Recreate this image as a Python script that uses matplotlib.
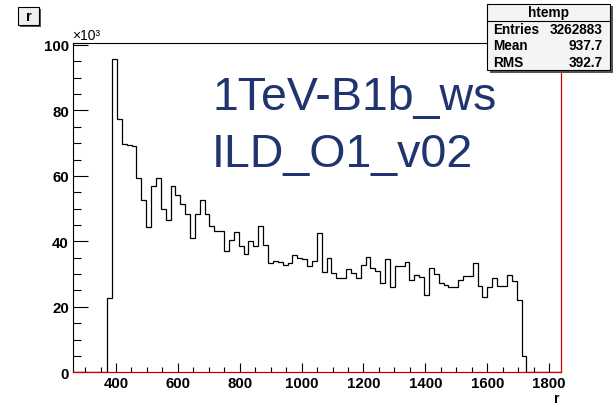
import numpy as np
import matplotlib
matplotlib.use("Agg")
import matplotlib.pyplot as plt
from matplotlib.patches import Rectangle
from matplotlib.ticker import MultipleLocator

plt.rcParams['font.family'] = ['Liberation Sans', 'DejaVu Sans']

# ---- data (counts in units of 10^3), 100 bins ----
x_min = 261.0
x_max = 1837.0
n_bins = 100
counts = [
    0, 0, 0, 0, 0, 0, 0, 22.6, 95.6, 77.4,
    69.8, 69.3, 69.0, 59.3, 52.5, 44.3, 56.9, 59.5, 49.9, 46.6,
    56.9, 54.2, 51.5, 48.4, 41.0, 48.3, 52.6, 48.5, 44.7, 43.3,
    43.3, 37.2, 40.5, 43.0, 38.7, 36.2, 40.1, 38.5, 44.8, 39.0,
    33.4, 34.1, 33.8, 32.8, 33.4, 35.7, 35.0, 34.5, 32.6, 33.9,
    42.5, 30.5, 34.9, 30.4, 28.7, 28.9, 31.5, 30.4, 28.9, 32.9,
    35.1, 31.9, 30.9, 27.3, 34.6, 26.2, 32.5, 32.6, 33.7, 28.2,
    29.8, 29.2, 23.6, 32.0, 30.1, 27.3, 26.7, 26.0, 26.2, 28.2,
    29.5, 29.4, 33.3, 26.3, 22.9, 26.0, 28.7, 26.5, 26.5, 29.8,
    28.0, 22.0, 5.0, 0, 0, 0, 0, 0, 0, 0,
]
y_max = 100.5
x_ticks = [400, 600, 800, 1000, 1200, 1400, 1600, 1800]
y_ticks = [0, 20, 40, 60, 80, 100]
hist_name = "htemp"
stats_labels = ["Entries", "Mean", "RMS"]
stats_values = ["3262883", "937.7", "392.7"]
big_text = ["1TeV-B1b_ws", "ILD_O1_v02"]
axis_name = "r"

W, H = 615, 406
fig = plt.figure(figsize=(W / 100, H / 100), dpi=100)
fig.patch.set_facecolor('white')

def fx(x):
    return x / W

def fy(y):
    return 1 - y / H

L, R, T, B = 73, 560.5, 44.3, 373.3
ax = fig.add_axes([fx(L), fy(B), fx(R) - fx(L), fy(T) - fy(B)])
edges = np.linspace(x_min, x_max, n_bins + 1)
ax.stairs(counts, edges, color='black', linewidth=0.9)
ax.set_xlim(x_min, x_max)
ax.set_ylim(0, y_max)

for s in ['top', 'left']:
    ax.spines[s].set_color('black')
    ax.spines[s].set_linewidth(0.8)
for s in ['bottom', 'right']:
    ax.spines[s].set_color('#d00000')
    ax.spines[s].set_linewidth(0.9)

ax.set_xticks(x_ticks)
ax.set_yticks(y_ticks)
ax.xaxis.set_minor_locator(MultipleLocator(50))
ax.yaxis.set_minor_locator(MultipleLocator(5))
ax.tick_params(axis='x', which='major', direction='in', length=6.5, width=0.8,
               pad=3, labelsize=10.8, top=False)
ax.tick_params(axis='x', which='minor', direction='in', length=3.6, width=0.8, top=False)
ax.tick_params(axis='y', which='major', direction='in', length=10.8, width=0.8,
               pad=3, labelsize=10.8, right=False)
ax.tick_params(axis='y', which='minor', direction='in', length=5.8, width=0.8, right=False)
for lab in ax.get_xticklabels() + ax.get_yticklabels():
    lab.set_fontweight('bold')

# x10^3 multiplier
fig.text(fx(72.5), fy(43.5), "\u00d710\u00b3", fontsize=10, ha='left', va='bottom')

# axis title
fig.text(fx(559.5), fy(403), axis_name, fontsize=10, fontweight='bold', ha='right', va='baseline')

# big annotation text
fig.text(fx(212), fy(110), big_text[0], fontsize=33.5, color='#203470', ha='left', va='baseline')
fig.text(fx(212), fy(166.7), big_text[1], fontsize=33.5, color='#203470', ha='left', va='baseline')

# title box "r"
def px_rect(x0, y0, x1, y1, **kw):
    return Rectangle((fx(x0), fy(y1)), fx(x1) - fx(x0), fy(y0) - fy(y1),
                     transform=fig.transFigure, **kw)

fig.patches.append(px_rect(20, 10, 41, 27.5, facecolor='#555555', edgecolor='none'))
fig.patches.append(px_rect(18, 8, 39, 25.5, facecolor='#f0f0f0', edgecolor='black', linewidth=0.8))
fig.text(fx(28.5), fy(16.8), axis_name, fontsize=10.5, fontweight='bold', ha='center', va='center')

# stats box
fig.patches.append(px_rect(489.5, 7, 612.5, 73.5, facecolor='#555555', edgecolor='none', zorder=5))
fig.patches.append(px_rect(487.3, 5, 610.3, 71.3, facecolor='#f4f4f4', edgecolor='black',
                           linewidth=0.8, zorder=6))
fig.lines.append(plt.Line2D([fx(487.3), fx(610.3)], [fy(21.7), fy(21.7)],
                            transform=fig.transFigure, color='black', linewidth=0.8, zorder=7))
fig.text(fx(548.8), fy(13.5), hist_name, fontsize=9.8, fontweight='bold',
         ha='center', va='center', zorder=8)
row_y = [30.2, 46.3, 62.7]
for lab, val, yy in zip(stats_labels, stats_values, row_y):
    fig.text(fx(493.3), fy(yy), lab, fontsize=9.8, fontweight='bold', ha='left', va='center', zorder=8)
    fig.text(fx(602.5), fy(yy), val, fontsize=9.8, fontweight='bold', ha='right', va='center', zorder=8)

fig.savefig("out.png", dpi=100)
